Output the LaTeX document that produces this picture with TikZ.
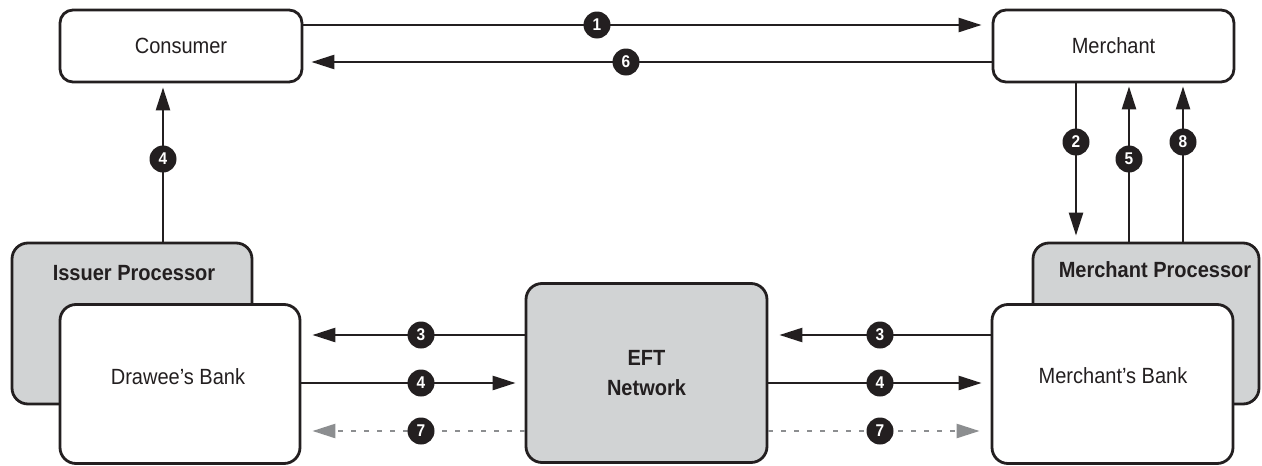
\documentclass[tikz,border=0pt]{standalone}
\usepackage{fontspec}
\setmainfont{Liberation Sans}[FakeStretch=0.91]
\usetikzlibrary{arrows.meta}
\definecolor{ink}{HTML}{231F20}
\definecolor{boxgray}{HTML}{D1D3D4}
\definecolor{dashgray}{HTML}{8C8E90}
\tikzset{
  entity/.style={draw=ink, line width=2.8pt, rounded corners=13pt, fill=white,
    inner sep=0pt, text=ink, font=\fontsize{22}{27}\selectfont, align=center},
  procbox/.style={entity, fill=boxgray, rounded corners=16pt},
  bankbox/.style={entity, rounded corners=16pt},
  boldlbl/.style={text=ink, inner sep=0pt, font=\fontsize{22}{27}\selectfont\bfseries},
  plainlbl/.style={text=ink, inner sep=0pt, font=\fontsize{22}{27}\selectfont},
  flow/.style={draw=ink, line width=2.5pt, -{Triangle[length=23pt,width=14pt]}},
  retflow/.style={draw=dashgray, line width=2.5pt, dash pattern=on 5pt off 8pt,
    -{Triangle[length=23pt,width=14pt,fill=dashgray]}},
  stepnum/.style={circle, fill=ink, text=white, inner sep=0pt, minimum size=27pt,
    font=\fontsize{17}{17}\selectfont\bfseries},
}
\begin{document}
\begin{tikzpicture}[x=1pt, y=-1pt]
\useasboundingbox (0,0) rectangle (1262,466);

% parties at the top
\node[entity, minimum width=242pt, minimum height=72pt] (consumer) at (181,46) {Consumer};
\node[entity, minimum width=241pt, minimum height=72pt] (merchant) at (1113.5,46) {Merchant};

% processors behind their banks
\node[procbox, minimum width=240pt, minimum height=161pt] (issuerproc) at (132,323.5) {};
\node[boldlbl] (issuerlbl) at (134,273) {Issuer Processor};
\node[procbox, minimum width=226pt, minimum height=161pt] (merchproc) at (1146,323.5) {};
\node[boldlbl] (merchproclbl) at (1155,270) {Merchant Processor};

\node[bankbox, minimum width=240pt, minimum height=159pt] (drawee) at (180,384) {};
\node[plainlbl] (draweelbl) at (178,377) {Drawee’s Bank};
\node[bankbox, minimum width=241pt, minimum height=159pt] (merchbank) at (1112.5,384) {};
\node[plainlbl] (merchbanklbl) at (1113,376) {Merchant’s Bank};

\node[entity, fill=boxgray, rounded corners=16pt, minimum width=241pt, minimum height=179pt,
  font=\fontsize{22}{30}\selectfont\bfseries] (eft) at (646.5,373) {EFT\\Network};

% top exchange
\draw[flow, shorten >=10pt] (consumer.east |- 0,25) -- (merchant.west |- 0,25);
\draw[flow, shorten >=8pt] (merchant.west |- 0,62) -- (consumer.east |- 0,62);

% consumer and issuer
\draw[flow, shorten >=4pt] (163,0 |- issuerproc.north) -- (163,0 |- consumer.south);

% merchant and its processor
\draw[flow, shorten >=6pt] (1076,0 |- merchant.south) -- (1076,0 |- merchproc.north);
\draw[flow, shorten >=3pt] (1129,0 |- merchproc.north) -- (1129,0 |- merchant.south);
\draw[flow, shorten >=3pt] (1183,0 |- merchproc.north) -- (1183,0 |- merchant.south);

% banks and the network
\draw[flow, shorten >=11pt] (eft.west |- 0,335) -- (drawee.east |- 0,335);
\draw[flow, shorten >=9pt] (drawee.east |- 0,383) -- (eft.west |- 0,383);
\draw[retflow, shorten >=11pt] (eft.west |- 0,431) -- (drawee.east |- 0,431);

\draw[flow, shorten >=11pt] (merchbank.west |- 0,335) -- (eft.east |- 0,335);
\draw[flow, shorten >=9pt] (eft.east |- 0,383) -- (merchbank.west |- 0,383);
\draw[retflow, shorten >=11pt] (eft.east |- 0,431) -- (merchbank.west |- 0,431);

% step numbers
\node[stepnum] (s1) at (597,25) {1};
\node[stepnum] (s6) at (626,62) {6};
\node[stepnum] (s4a) at (163,159) {4};
\node[stepnum] (s2) at (1076,142) {2};
\node[stepnum] (s5) at (1129,159) {5};
\node[stepnum] (s8) at (1183,142) {8};
\node[stepnum] (s3l) at (421,335) {3};
\node[stepnum] (s4l) at (421,383) {4};
\node[stepnum] (s7l) at (421,431) {7};
\node[stepnum] (s3r) at (880,335) {3};
\node[stepnum] (s4r) at (880,383) {4};
\node[stepnum] (s7r) at (880,431) {7};
\end{tikzpicture}
\end{document}
